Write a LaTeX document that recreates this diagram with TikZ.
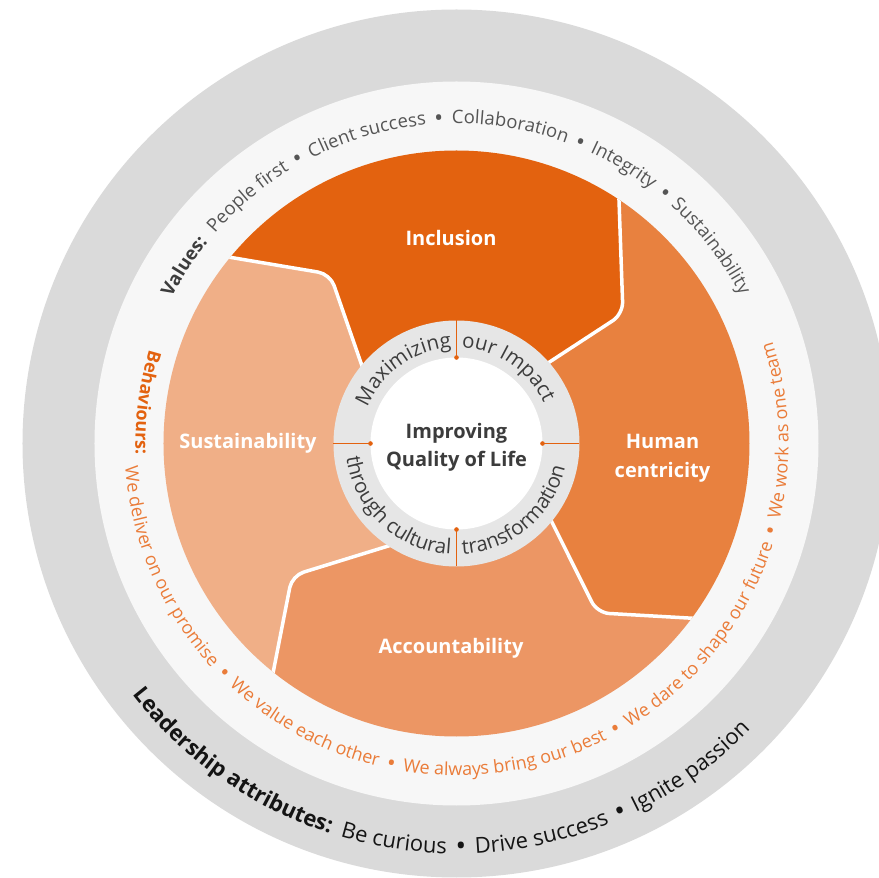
\documentclass[tikz,border=0pt]{standalone}
\usepackage{fontspec}
\setmainfont{Open Sans}
\usetikzlibrary{calc,decorations.text}

% palette
\definecolor{outergray}{HTML}{DADADA}
\definecolor{bandgray}{HTML}{F7F7F7}
\definecolor{hubgray}{HTML}{E6E6E6}
\definecolor{inclusion}{HTML}{E3620F}
\definecolor{human}{HTML}{E8813F}
\definecolor{account}{HTML}{EC9664}
\definecolor{sustain}{HTML}{F0AF87}
\definecolor{hubtext}{HTML}{3C3C3C}
\definecolor{valuetext}{HTML}{555555}
\definecolor{behavetext}{HTML}{EA7C39}
\definecolor{leadtext}{HTML}{141414}

\newcommand\px[1]{\fontsize{#1}{#1}\selectfont}
% bullet with a little air on both sides
\newcommand\dotsep{{\kern4.5pt\bfseries•\kern4.5pt}}

\tikzset{
  seam/.style={draw=white, line width=3.5pt, rounded corners=12pt},
  petal/.style={fill=#1, rounded corners=12pt},
  petal label/.style={text=white, font=\fontsize{20}{29}\selectfont\bfseries, align=center},
  marker/.style={draw=inclusion, line width=1.2pt},
}

\begin{document}
\begin{tikzpicture}[x=1pt, y=1pt]
\clip (-456.5,-434.5) rectangle (422.5,443.5);

% outer bands
\fill[outergray] (0,0) circle[radius=434pt];
\fill[bandgray] (0,0) circle[radius=362pt];

% seams: inner end, bend, outer end
\coordinate (r1) at (-94.8,78.5);  \coordinate (c1) at (-126.4,169.4); \coordinate (o1) at (-226.5,186.2);
\coordinate (r2) at (93.5,81.8);   \coordinate (c2) at (166.5,129.5);  \coordinate (o2) at (162.5,243.5);
\coordinate (r3) at (95.2,-78.2);  \coordinate (c3) at (140.7,-169.3); \coordinate (o3) at (236.8,-174.8);
\coordinate (r4) at (-68.2,-102.5);\coordinate (c4) at (-164.4,-132.2);\coordinate (o4) at (-183.2,-228.2);
\foreach \i in {1,...,4} {
  \coordinate (f\i) at ($(c\i)!3!(o\i)$);
  \coordinate (n\i) at ($(c\i)!1.5!(r\i)$);
}

\begin{scope}
\clip (0,0) circle[radius=293pt];
\path[petal=inclusion] (0,0) -- (r2) -- (c2) -- (o2) -- (f2) -- (90:700pt) -- (f1) -- (o1) -- (c1) -- (r1) -- cycle;
\path[petal=human] (0,0) -- (r3) -- (c3) -- (o3) -- (f3) -- (0:700pt) -- (f2) -- (o2) -- (c2) -- (r2) -- cycle;
\path[petal=account] (0,0) -- (r4) -- (c4) -- (o4) -- (f4) -- (270:700pt) -- (f3) -- (o3) -- (c3) -- (r3) -- cycle;
\path[petal=sustain] (0,0) -- (r1) -- (c1) -- (o1) -- (f1) -- (180:700pt) -- (f4) -- (o4) -- (c4) -- (r4) -- cycle;
\foreach \i in {1,...,4}
  \draw[seam] (n\i) -- (c\i) -- (f\i);
\end{scope}

% hub
\fill[hubgray] (0,0) circle[radius=123pt];
\fill[white] (0,0) circle[radius=86pt];
\foreach \a in {0,90,180,270} {
  \draw[marker] (\a:86pt) -- (\a:123pt);
  \fill[inclusion] (\a:86pt) circle[radius=2.3pt];
}

\path[decorate, decoration={text along path, text align=right, text color=hubtext,
  text={|\px{20.5}|Maximizing}}] (200:96pt) arc[start angle=200, end angle=93, radius=96pt];
\path[decorate, decoration={text along path, text align=left, text color=hubtext,
  text={|\px{20.5}|our Impact}}] (87:96pt) arc[start angle=87, end angle=-20, radius=96pt];
\path[decorate, decoration={text along path, text align=right, text color=hubtext,
  text={|\px{20.5}|through cultural}}] (150:111pt) arc[start angle=150, end angle=267, radius=111pt];
\path[decorate, decoration={text along path, text align=left, text color=hubtext,
  text={|\px{20.5}|transformation}}] (273:111pt) arc[start angle=273, end angle=390, radius=111pt];

\node[font=\fontsize{20}{28}\selectfont\bfseries, text=hubtext, align=center] (hub) at (0,-4) {Improving\\Quality of Life};

% petal names
\node[petal label] (incl) at (-5.5,205.5) {Inclusion};
\node[petal label] (human) at (206,-15) {Human\\centricity};
\node[petal label] (acc) at (-5.5,-204.5) {Accountability};
\node[petal label] (sust) at (-208.5,0) {Sustainability};

% values
\path[decorate, decoration={text along path, text align=right, text color=hubtext,
  text={|\px{18.5}\bfseries|Values:}}] (200:320pt) arc[start angle=200, end angle=141, radius=320pt];
\path[decorate, decoration={text along path, text align=left, text color=valuetext,
  text={|\px{18.5}|People first \dotsep{} Client success \dotsep{} Collaboration \dotsep{} Integrity \dotsep{} Sustainability}}]
  (139:320pt) arc[start angle=139, end angle=-10, radius=320pt];

% behaviours
\path[decorate, decoration={text along path, text align=right, text color=inclusion,
  text={|\px{18}\bfseries|Behaviours:}}] (140:321pt) arc[start angle=140, end angle=182, radius=321pt];
\path[decorate, decoration={text along path, text align=left, text color=behavetext,
  text={|\px{18}|We deliver on our promise \dotsep{} We value each other \dotsep{} We always bring our best \dotsep{} We dare to shape our future \dotsep{} We work as one team}}]
  (184:332pt) arc[start angle=184, end angle=410, radius=332pt];

% leadership attributes
\path[decorate, decoration={text along path, text align=right, text color=leadtext,
  text={|\px{22}\bfseries|Leadership attributes:}}] (195:410pt) arc[start angle=195, end angle=252, radius=410pt];
\path[decorate, decoration={text along path, text align=left, text color=leadtext,
  text={|\px{22}|Be curious \dotsep{} Drive success \dotsep{} Ignite passion}}]
  (253.5:410pt) arc[start angle=253.5, end angle=340, radius=410pt];
\end{tikzpicture}
\end{document}
